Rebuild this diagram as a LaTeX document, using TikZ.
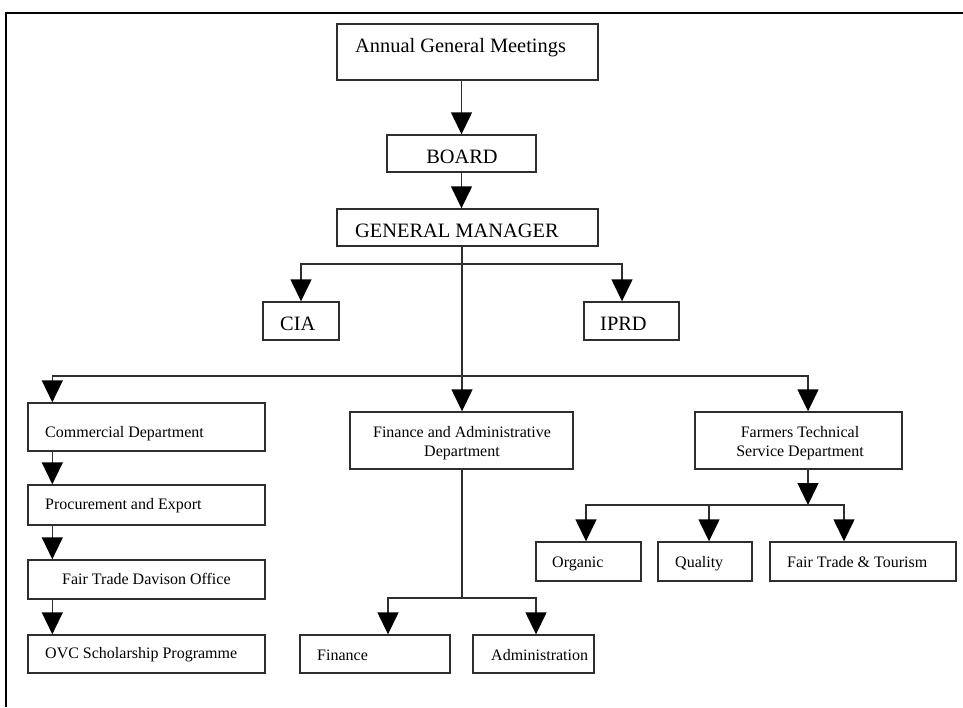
\documentclass[tikz,border=0pt]{standalone}
\usepackage{fontspec}
\setmainfont{Liberation Serif}
\usetikzlibrary{arrows.meta}
\definecolor{ln}{HTML}{2E2E2E}
\tikzset{
  box/.style={draw=ln, line width=1.4pt, inner sep=0pt, fill=white},
  big/.style={font=\fontsize{20.4}{24}\selectfont, inner sep=0pt, text=black},
  small/.style={font=\fontsize{16}{19}\selectfont, inner sep=0pt, text=black},
  conn/.style={draw=ln, line width=1.4pt},
  arr/.style={conn, -{Triangle[width=21pt,length=22pt,color=black]}},
}
\begin{document}
\begin{tikzpicture}[x=1pt,y=-1pt]
\useasboundingbox (0,0) rectangle (963,707);
% frame
\draw[line width=2.6pt] (6,707) -- (6,13) -- (963,13);
% boxes
\node[box, minimum width=261, minimum height=56] (agm) at (467.5,52) {};
\node[box, minimum width=149, minimum height=37] (board) at (461.5,153.5) {};
\node[box, minimum width=261, minimum height=37] (gm) at (467.5,227.5) {};
\node[box, minimum width=76, minimum height=38] (cia) at (301,321) {};
\node[box, minimum width=95, minimum height=38] (iprd) at (631.5,321) {};
\node[box, minimum width=237, minimum height=48] (com) at (146.5,427) {};
\node[box, minimum width=237, minimum height=40] (proc) at (146.5,505) {};
\node[box, minimum width=237, minimum height=39] (ftd) at (146.5,579.5) {};
\node[box, minimum width=237, minimum height=38] (ovc) at (146.5,654) {};
\node[box, minimum width=223, minimum height=57] (fad) at (461.5,440.5) {};
\node[box, minimum width=150, minimum height=38] (fin) at (375,654) {};
\node[box, minimum width=121, minimum height=38] (adm) at (533.5,654) {};
\node[box, minimum width=207, minimum height=57] (ftsd) at (798.5,440.5) {};
\node[box, minimum width=105, minimum height=39] (org) at (588.5,561.5) {};
\node[box, minimum width=94, minimum height=39] (qual) at (705,561.5) {};
\node[box, minimum width=186, minimum height=39] (ftt) at (863,561.5) {};
% texts
\node[big, anchor=base west] (tagm) at (355,52) {Annual General Meetings};
\node[big, anchor=base] (tboard) at (462,163) {BOARD};
\node[big, anchor=base west] (tgm) at (355,237) {GENERAL MANAGER};
\node[big, anchor=base west] (tcia) at (280,330) {CIA};
\node[big, anchor=base west] (tiprd) at (600,330) {IPRD};
\node[small, anchor=base west] (tcom) at (45,437) {Commercial Department};
\node[small, anchor=base west] (tproc) at (45,509) {Procurement and Export};
\node[small, anchor=base west] (tftd) at (62,584) {Fair Trade Davison Office};
\node[small, anchor=base west] (tovc) at (45,658) {OVC Scholarship Programme};
\node[small, anchor=base] (tfad1) at (462,437) {Finance and Administrative};
\node[small, anchor=base] (tfad2) at (462,456) {Department};
\node[small, anchor=base west] (tfin) at (317,660) {Finance};
\node[small, anchor=base west] (tadm) at (491,660) {Administration};
\node[small, anchor=base] (tftsd1) at (800,437) {Farmers Technical};
\node[small, anchor=base] (tftsd2) at (800,456) {Service Department};
\node[small, anchor=base west] (torg) at (552,567) {Organic};
\node[small, anchor=base west] (tqual) at (675,567) {Quality};
\node[small, anchor=base west] (tftt) at (787,567) {Fair Trade \& Tourism};
% junctions
\coordinate (j1) at (462,264);
\coordinate (j2) at (462,376);
\coordinate (j3) at (808,505);
\coordinate (j4) at (462,598);
% connectors
\draw[arr] (board.north |- agm.south) -- (board.north);
\draw[arr] (board.south) -- (board.south |- gm.north);
\draw[arr] (j2 |- gm.south) -- (j2 |- fad.north);
\draw[arr] (j1) -| (cia.north);
\draw[arr] (j1) -| ([xshift=-9.5pt]iprd.north);
\draw[arr] (j2) -| ([xshift=25pt]com.north west);
\draw[arr] (j2) -| ([xshift=9.5pt]ftsd.north);
\draw[arr] ([xshift=25pt]com.south west) -- ([xshift=25pt]proc.north west);
\draw[arr] ([xshift=25pt]proc.south west) -- ([xshift=25pt]ftd.north west);
\draw[arr] ([xshift=25pt]ftd.south west) -- ([xshift=25pt]ovc.north west);
\draw[conn] (j4 |- fad.south) -- (j4);
\draw[arr] (j4) -| ([xshift=13pt]fin.north);
\draw[arr] (j4) -| ([xshift=2.5pt]adm.north);
\draw[arr] (j3 |- ftsd.south) -- (j3);
\draw[arr] (j3) -| ([xshift=-2.5pt]org.north);
\draw[arr] (j3) -| ([xshift=4pt]qual.north);
\draw[arr] (j3) -| ([xshift=-19pt]ftt.north);
\end{tikzpicture}
\end{document}
